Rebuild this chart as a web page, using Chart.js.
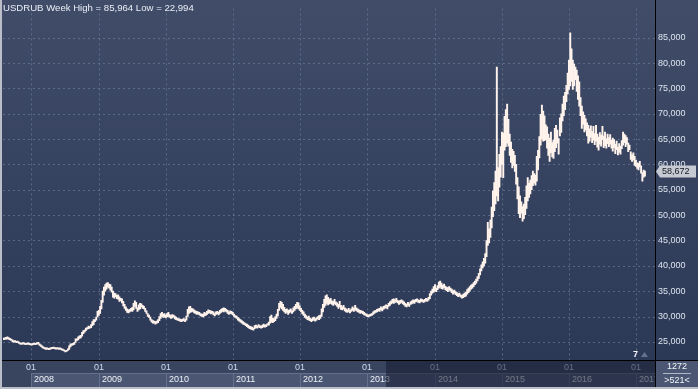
<!DOCTYPE html>
<html><head><meta charset="utf-8">
<script src="https://cdn.jsdelivr.net/npm/chart.js@4.4.0/dist/chart.umd.min.js"></script>
<style>html,body{margin:0;padding:0;background:#2d3a58;overflow:hidden}canvas{display:block}</style>
</head><body>
<canvas id="c" width="698" height="389"></canvas>
<script>
// ---- data ----
const symbol = 'USDRUB';
const period = 'Week';
const firstWeek = '2007-08-03';
const statHigh = 85.964;
const statLow = 22.994;
const lastPrice = 58.672;
const totalBars = '1272';
const shownBars = '>521<';
const markerLabel = '7';
const yearLabels = ['2008','2009','2010','2011','2012','2013','2014','2015','2016','2017'];
const yTicks = [25,30,35,40,45,50,55,60,65,70,75,80,85];

const lows = [
25.45,25.5,25.55,25.6,25.5,25.4,25.3,25.0,24.95,25.0,
24.85,24.9,24.7,24.55,24.5,24.6,24.55,24.45,24.5,24.55,
24.45,24.4,24.35,24.45,24.5,24.45,24.6,24.55,24.3,24.1,
23.9,23.7,23.6,23.5,23.55,23.45,23.5,23.6,23.65,23.7,
23.6,23.55,23.6,23.5,23.55,23.4,23.3,23.2,22.994,23.1,
23.3,23.5,24.0,24.3,24.4,24.5,24.9,25.3,25.4,25.7,
25.8,26.1,26.6,26.9,27.2,27.5,27.6,27.7,27.8,28.2,
28.4,29.0,29.3,29.9,30.2,30.6,31.5,32.8,34.2,35.0,
35.4,35.8,35.6,35.2,34.8,33.8,33.6,33.9,33.5,33.4,
33.0,33.1,32.7,32.1,31.6,31.2,30.8,30.7,30.9,31.1,
31.0,31.3,32.0,31.6,31.0,31.3,31.5,31.9,31.6,31.5,
31.0,30.6,30.0,29.8,29.3,28.9,28.7,28.7,28.5,28.7,
28.8,29.2,29.6,30.0,29.8,29.9,29.7,29.9,30.0,29.8,
29.6,29.7,29.9,29.5,29.4,29.3,29.2,29.1,29.0,29.1,
29.2,29.0,29.3,30.0,30.6,30.8,30.9,31.0,30.7,30.6,
30.4,30.5,30.3,30.1,30.0,29.9,30.1,30.2,30.4,30.6,
30.7,30.5,30.6,30.3,30.1,30.4,30.5,30.3,30.6,30.8,
31.0,30.9,31.1,30.9,30.6,30.4,30.6,30.5,30.3,30.0,
29.8,29.6,29.3,29.1,28.9,28.7,28.5,28.4,28.2,28.0,
27.8,27.6,27.5,27.4,27.3,27.6,27.8,27.7,27.9,27.8,
27.7,27.8,28.0,27.9,28.0,28.3,28.3,28.7,28.9,28.8,
29.0,29.2,29.6,30.1,31.2,31.8,31.5,31.2,30.9,30.6,
30.8,30.4,30.7,30.9,30.6,30.9,31.2,31.5,31.7,31.5,
31.2,30.9,30.5,30.2,29.8,29.6,29.4,29.3,29.2,29.0,
29.2,29.3,29.1,29.3,29.5,29.4,29.6,30.0,30.9,31.8,
32.2,32.6,32.3,32.5,32.6,32.4,32.2,32.5,32.3,32.0,
31.6,31.9,31.4,31.3,31.5,31.1,30.9,30.8,31.0,30.7,
31.0,31.2,31.0,31.3,31.1,30.9,30.8,30.6,30.7,30.5,
30.3,30.2,30.0,29.9,30.0,30.1,30.2,30.4,30.6,30.8,
30.9,31.1,31.0,31.3,31.1,31.4,31.6,31.8,31.5,32.0,
32.2,32.5,32.7,32.6,32.8,32.9,32.7,32.4,32.6,32.8,
32.5,32.3,32.0,31.9,32.2,32.0,32.4,32.5,32.7,32.6,
32.9,33.0,32.8,32.7,32.9,33.0,32.8,32.9,33.1,33.0,
33.2,33.5,34.2,34.6,34.8,35.0,34.9,35.3,35.6,35.8,
35.5,35.4,35.7,35.3,35.1,34.9,35.2,35.0,34.7,34.4,
34.6,34.3,34.1,33.9,34.0,33.8,33.6,33.7,33.9,34.0,
34.4,34.7,35.0,35.4,35.6,35.9,36.3,36.6,37.0,37.5,
38.2,39.0,39.6,40.0,40.5,41.8,44.0,44.5,45.6,47.5,
49.7,50.9,52.2,53.8,52.8,55.5,57.5,60.0,57.4,62.8,
63.5,64.2,63.6,61.8,60.4,59.3,59.8,58.6,56.1,53.2,
50.3,49.5,50.4,48.8,49.3,50.1,51.3,52.8,53.5,54.2,
55.0,55.8,56.3,55.9,56.7,58.9,61.3,63.8,65.0,64.6,
64.7,64.9,63.2,61.8,60.6,62.3,61.5,61.2,62.5,63.3,
64.2,62.0,65.6,66.3,68.6,69.6,70.8,72.4,73.9,74.8,
75.5,76.4,74.8,75.5,76.7,74.4,72.8,71.5,69.6,67.1,
67.9,66.4,66.8,65.6,64.2,64.6,65.4,64.3,64.8,63.9,
64.6,63.4,62.8,64.0,63.6,64.9,63.3,63.7,63.2,64.1,
63.5,64.0,63.2,62.6,63.3,62.1,62.9,61.9,62.4,62.0,
63.1,63.8,64.3,63.5,64.0,62.5,62.9,61.0,60.6,60.9,
59.8,59.6,59.2,58.9,59.5,58.3,56.7,57.5,57.7
];
const highs = [
25.75,25.8,25.9,26.0,25.85,25.7,25.55,25.4,25.2,25.25,
25.1,25.15,24.95,24.8,24.75,24.85,24.8,24.7,24.75,24.8,
24.7,24.65,24.6,24.7,24.75,24.7,24.85,24.9,24.6,24.4,
24.2,24.0,23.85,23.8,23.8,23.7,23.75,23.85,23.9,23.95,
23.85,23.8,23.85,23.75,23.8,23.65,23.55,23.45,23.3,23.35,
23.6,24.2,24.6,24.6,24.7,24.9,25.6,25.6,26.0,26.2,
26.3,26.9,27.2,27.3,27.7,27.8,28.1,28.0,28.4,29.0,
29.4,29.4,29.9,31.0,31.2,32.0,33.2,35.0,35.8,36.3,
36.6,36.7,36.4,36.3,35.8,35.0,34.6,34.5,34.2,34.3,
33.9,33.6,33.5,33.0,32.4,31.9,31.5,31.3,31.4,31.6,
31.8,32.6,33.1,32.8,31.7,32.3,32.6,32.5,32.2,32.0,
31.6,31.1,30.6,30.3,29.9,29.4,29.2,29.1,29.0,29.1,
29.4,30.0,30.6,30.8,30.5,30.6,30.3,30.6,30.8,30.4,
30.2,30.4,30.3,30.1,29.9,29.7,29.6,29.5,29.4,29.5,
29.6,29.4,30.1,31.4,31.9,32.0,31.6,31.5,31.3,31.1,
31.0,30.9,30.8,30.6,30.5,30.5,30.8,30.7,31.0,31.3,
31.2,31.1,31.0,30.9,30.6,30.9,31.0,30.8,31.2,31.4,
31.6,31.7,31.6,31.4,31.2,30.9,31.1,31.0,30.8,30.5,
30.2,30.1,29.8,29.6,29.4,29.2,29.0,28.8,28.6,28.5,
28.3,28.1,28.0,27.9,27.7,28.2,28.3,28.1,28.4,28.2,
28.1,28.3,28.5,28.3,28.4,28.6,28.9,30.0,30.3,29.7,
29.6,30.0,30.5,31.4,32.6,33.0,32.8,32.4,31.8,31.4,
31.5,31.2,31.3,31.5,31.1,31.7,32.0,32.4,32.8,32.7,
32.1,31.6,31.2,30.9,30.5,30.2,29.9,30.1,29.7,29.5,
29.8,29.9,29.6,29.8,30.0,30.2,30.3,31.5,32.4,33.4,
34.1,34.3,33.8,33.4,33.6,33.1,33.0,33.4,32.9,32.7,
32.4,33.0,32.2,31.9,32.2,31.7,31.5,31.3,31.6,31.2,
31.5,31.9,31.6,32.2,31.7,31.5,31.3,31.2,31.1,31.0,
30.8,30.6,30.5,30.3,30.4,30.5,30.6,30.9,31.1,31.2,
31.4,31.5,31.6,31.9,31.7,32.0,32.1,32.3,32.2,32.6,
32.9,33.1,33.4,33.5,33.3,33.6,33.2,33.0,33.2,33.3,
33.1,32.9,32.6,32.4,32.8,32.5,32.9,33.1,33.3,33.2,
33.4,33.5,33.3,33.2,33.5,33.4,33.2,33.4,33.6,33.5,
33.8,34.5,35.0,35.4,35.9,36.3,35.6,36.1,36.8,37.0,
36.6,36.2,36.4,36.0,35.8,35.7,35.9,35.6,35.4,35.1,
35.2,34.9,34.7,34.5,34.6,34.3,34.2,34.4,34.6,34.8,
35.3,35.6,35.9,36.2,36.4,36.7,37.0,37.4,37.9,38.5,
39.4,40.2,40.8,41.5,42.4,45.0,48.6,47.3,49.0,51.6,
54.8,56.4,58.7,79.2,59.4,62.0,63.5,66.4,66.2,69.5,
70.8,71.9,68.9,66.0,64.4,63.0,62.6,61.8,60.0,57.4,
55.6,53.8,52.6,51.7,52.2,53.5,55.8,57.4,56.3,56.9,
57.8,58.7,58.2,57.9,61.6,62.8,65.5,69.9,71.7,70.5,
69.6,67.8,67.4,66.0,65.2,66.4,64.3,64.8,67.1,67.7,
66.8,65.1,69.2,70.0,71.9,73.5,74.2,75.6,78.0,80.6,
85.964,82.8,80.6,79.8,79.2,78.6,77.5,76.3,73.2,71.5,
70.4,69.7,69.0,68.2,67.7,67.0,67.6,66.5,67.5,66.1,
67.7,66.0,65.4,66.3,65.8,67.5,65.6,66.4,65.1,66.0,
65.3,65.9,64.8,65.2,64.9,64.0,64.6,63.4,64.1,63.6,
64.7,66.4,66.0,65.7,65.3,64.2,63.8,62.5,61.9,62.3,
61.6,60.8,60.3,60.2,60.6,59.7,58.4,58.9,58.7
];

// ---- helpers ----
const fmt = v => v.toFixed(3).replace('.', ',');
const startUTC = Date.parse(firstWeek + 'T00:00:00Z');
const weekMs = 7 * 864e5;
const yearPos = yearLabels.map(y => (Date.UTC(+y, 0, 1) - startUTC) / weekMs);
const n = Math.min(lows.length, highs.length);
const bars = [];
for (let i = 0; i < n; i++) bars.push({x: i, y: [lows[i], highs[i]]});

const FONT = '"Liberation Sans", Arial, sans-serif';

const deco = {
  id: 'deco',
  beforeDraw(c) {
    const ctx = c.ctx;
    const g = ctx.createLinearGradient(0, 0, 0, c.chartArea.bottom);
    g.addColorStop(0, '#404c68');
    g.addColorStop(1, '#2c3956');
    ctx.save();
    ctx.fillStyle = g;
    ctx.fillRect(0, 0, c.width, c.height);
    ctx.restore();
  },
  beforeDatasetsDraw(c) {
    const {ctx, chartArea: a, scales: {x, y}} = c;
    ctx.save();
    ctx.strokeStyle = 'rgba(120,136,168,0.55)';
    ctx.lineWidth = 1;
    ctx.setLineDash([2, 3]);
    yTicks.forEach(v => {
      const py = Math.round(y.getPixelForValue(v)) + 0.5;
      ctx.beginPath(); ctx.moveTo(a.left, py); ctx.lineTo(a.right, py); ctx.stroke();
    });
    yearPos.forEach(p => {
      const px = Math.round(x.getPixelForValue(p)) + 0.5;
      ctx.beginPath(); ctx.moveTo(px, a.top); ctx.lineTo(px, a.bottom); ctx.stroke();
    });
    ctx.restore();
  },
  afterDraw(c) {
    const {ctx, chartArea: a, scales: {x, y}} = c;
    const W = c.width, H = c.height;
    const rowTop = a.bottom + 13, rowBot = H - 2;
    ctx.save();
    // x-axis strip
    ctx.fillStyle = '#39445f';
    ctx.fillRect(0, a.bottom, a.right, H - a.bottom);
    ctx.save();
    ctx.beginPath(); ctx.rect(0, a.bottom, a.right, H - a.bottom); ctx.clip();
    ctx.font = '9px ' + FONT;
    ctx.textBaseline = 'middle';
    yearPos.forEach((p, k) => {
      const px = Math.round(x.getPixelForValue(p));
      const nx = k + 1 < yearPos.length ? Math.round(x.getPixelForValue(yearPos[k + 1])) : a.right;
      ctx.fillStyle = '#4a5672';
      ctx.fillRect(px, rowTop, nx - px, rowBot - rowTop);
      ctx.fillStyle = '#64718d';
      ctx.fillRect(px, rowTop, 1, rowBot - rowTop);
      ctx.fillRect(px, rowTop, nx - px, 1);
      ctx.fillStyle = '#cfdcf2';
      ctx.textAlign = 'center';
      ctx.fillText('01', px, a.bottom + 8);
      ctx.fillStyle = '#eef2f8';
      ctx.textAlign = 'left';
      ctx.fillText(yearLabels[k], px + 3, rowTop + 7);
    });
    ctx.fillStyle = 'rgba(22,30,50,0.58)';
    ctx.fillRect(386, a.bottom + 1, a.right - 386, rowBot - a.bottom - 1);
    ctx.restore();

    // axis lines
    ctx.fillStyle = '#000';
    ctx.fillRect(0, a.bottom, W, 1);
    ctx.fillRect(a.right, 0, 1, H);

    // bottom-right box
    ctx.fillStyle = '#4a5672';
    ctx.fillRect(a.right + 1, a.bottom + 1, W - a.right - 1, rowBot - a.bottom - 1);
    ctx.font = '9px ' + FONT;
    ctx.textAlign = 'center';
    ctx.textBaseline = 'middle';
    ctx.fillStyle = '#f2f5fa';
    const cx = (a.right + W) / 2 + 0.5;
    ctx.fillText(totalBars, cx, a.bottom + 7);
    ctx.fillStyle = '#aeb8ca';
    ctx.fillRect(cx - 14, a.bottom + 13, 28, 1);
    ctx.fillStyle = '#f2f5fa';
    ctx.fillText(shownBars, cx, a.bottom + 20.5);

    // outer borders
    ctx.fillStyle = '#b9bec8';
    ctx.fillRect(0, 0, 2, H);
    ctx.fillRect(0, H - 2, W, 2);

    // title
    ctx.font = '9.6px ' + FONT;
    ctx.textAlign = 'left';
    ctx.textBaseline = 'middle';
    ctx.fillStyle = '#e9eef6';
    ctx.fillText(symbol + ' ' + period + ' High = ' + fmt(statHigh) + ' Low = ' + fmt(statLow), 3, 8);

    // marker "7"
    ctx.font = 'bold 9px ' + FONT;
    ctx.fillStyle = '#f4f6fa';
    ctx.textAlign = 'right';
    ctx.fillText(markerLabel, 638, a.bottom - 5);
    ctx.fillStyle = '#66728c';
    ctx.beginPath();
    ctx.moveTo(641, a.bottom - 3); ctx.lineTo(648, a.bottom - 3); ctx.lineTo(644.5, a.bottom - 8); ctx.closePath(); ctx.fill();

    // last price tag
    const py = Math.round(y.getPixelForValue(lastPrice));
    ctx.fillStyle = '#c6cad2';
    ctx.beginPath();
    ctx.moveTo(a.right + 1, py + 0.5);
    ctx.lineTo(a.right + 5, py - 5.5);
    ctx.lineTo(W - 2, py - 5.5);
    ctx.lineTo(W - 2, py + 6.5);
    ctx.lineTo(a.right + 5, py + 6.5);
    ctx.closePath();
    ctx.fill();
    ctx.fillStyle = '#151820';
    ctx.font = '9px ' + FONT;
    ctx.textAlign = 'left';
    ctx.fillText(fmt(lastPrice), a.right + 7, py + 1);
    ctx.restore();
  }
};

new Chart(document.getElementById('c'), {
  type: 'bar',
  data: {
    datasets: [{
      data: bars,
      backgroundColor: '#fff3ec',
      borderWidth: 0,
      barPercentage: 1,
      categoryPercentage: 1
    }]
  },
  options: {
    responsive: false,
    animation: false,
    devicePixelRatio: 1,
    layout: {autoPadding: false, padding: {left: 3, right: 0, top: 0, bottom: 0}},
    plugins: {legend: {display: false}, tooltip: {enabled: false}},
    scales: {
      x: {
        type: 'linear',
        offset: false,
        min: -0.39,
        max: 505.8,
        grid: {display: false, drawTicks: false, offset: false},
        border: {display: false},
        ticks: {display: false},
        afterFit: s => { s.height = 29; }
      },
      y: {
        position: 'right',
        min: 21.42,
        max: 90.78,
        grid: {display: false, drawTicks: false},
        border: {display: false},
        afterBuildTicks: s => { s.ticks = yTicks.map(v => ({value: v})); },
        ticks: {
          color: '#dde4ef',
          padding: 3,
          font: {family: FONT, size: 9},
          callback: v => fmt(v)
        },
        afterFit: s => { s.width = 43; }
      }
    }
  },
  plugins: [deco]
});
</script>
</body></html>
